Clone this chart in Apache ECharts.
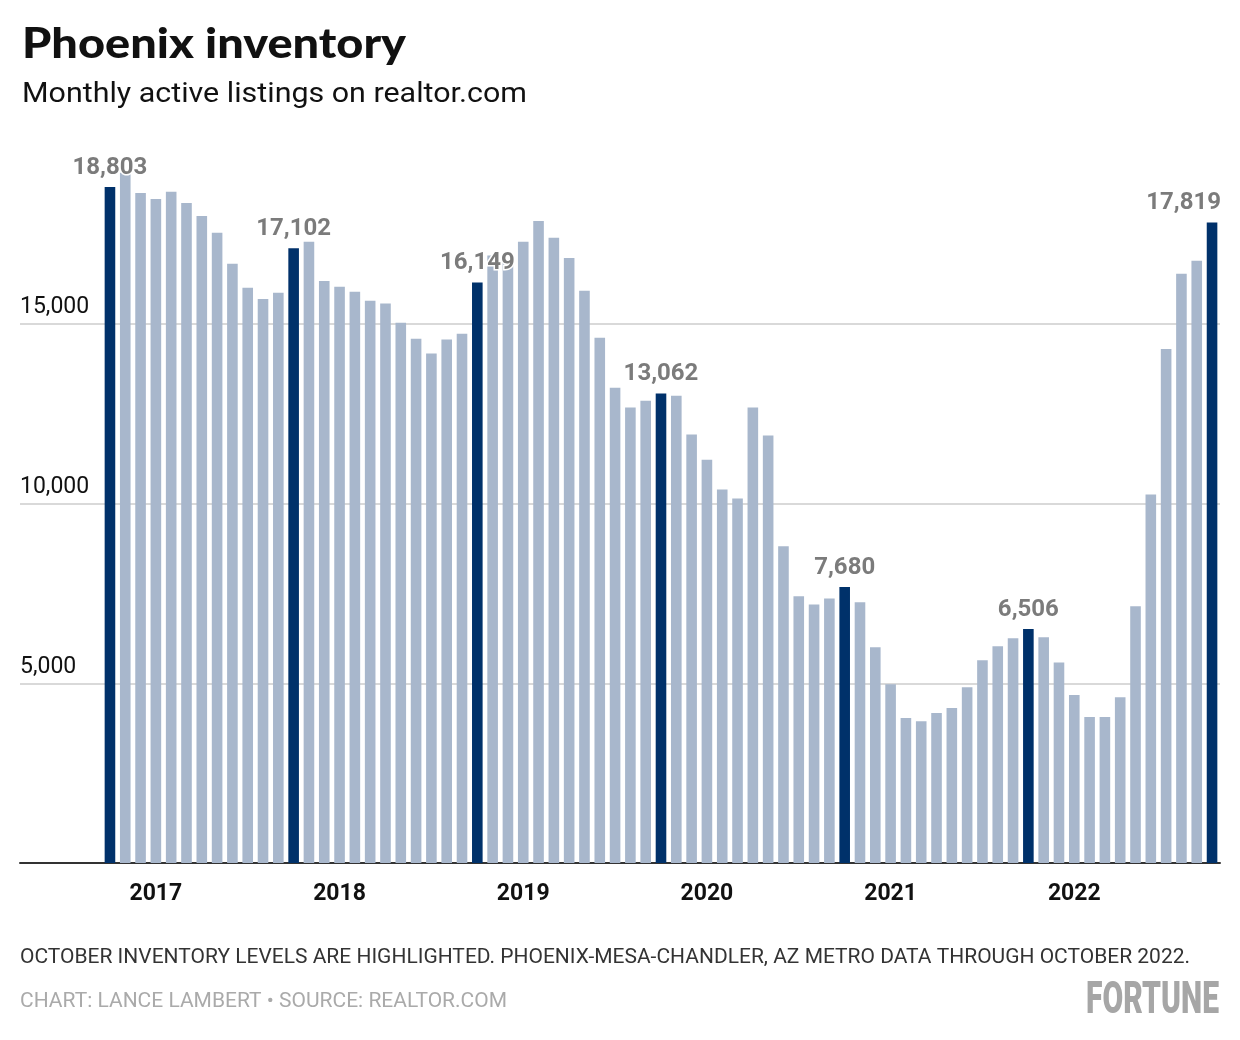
<!DOCTYPE html>
<html>
<head>
<meta charset="utf-8">
<style>
  html, body { margin: 0; padding: 0; background: #fff; }
  #chart { width: 1240px; height: 1040px; }
</style>
<script src="https://cdn.jsdelivr.net/npm/echarts@6/dist/echarts.min.js"></script>
</head>
<body>
<div id="chart"></div>
<script>
// ---- Data ----
const categories = [
  'Oct 2016','Nov 2016','Dec 2016',
  'Jan 2017','Feb 2017','Mar 2017','Apr 2017','May 2017','Jun 2017','Jul 2017','Aug 2017','Sep 2017','Oct 2017','Nov 2017','Dec 2017',
  'Jan 2018','Feb 2018','Mar 2018','Apr 2018','May 2018','Jun 2018','Jul 2018','Aug 2018','Sep 2018','Oct 2018','Nov 2018','Dec 2018',
  'Jan 2019','Feb 2019','Mar 2019','Apr 2019','May 2019','Jun 2019','Jul 2019','Aug 2019','Sep 2019','Oct 2019','Nov 2019','Dec 2019',
  'Jan 2020','Feb 2020','Mar 2020','Apr 2020','May 2020','Jun 2020','Jul 2020','Aug 2020','Sep 2020','Oct 2020','Nov 2020','Dec 2020',
  'Jan 2021','Feb 2021','Mar 2021','Apr 2021','May 2021','Jun 2021','Jul 2021','Aug 2021','Sep 2021','Oct 2021','Nov 2021','Dec 2021',
  'Jan 2022','Feb 2022','Mar 2022','Apr 2022','May 2022','Jun 2022','Jul 2022','Aug 2022','Sep 2022','Oct 2022'
];
const listings = [
  18803, 19200, 18640,
  18470, 18670, 18360, 18000, 17530, 16670, 16000, 15690, 15860, 17102, 17280, 16190,
  16030, 15890, 15640, 15560, 15030, 14580, 14170, 14560, 14720, 16149, 16900, 16720,
  17280, 17860, 17390, 16830, 15920, 14610, 13220, 12670, 12860, 13062, 13000, 11920,
  11220, 10390, 10140, 12670, 11890, 8810, 7420, 7190, 7360, 7680, 7250, 6000,
  4970, 4030, 3940, 4170, 4310, 4890, 5640, 6030, 6250, 6506, 6280, 5580,
  4670, 4060, 4060, 4610, 7140, 10250, 14300, 16390, 16750, 17819
];
const highlightedMonths = ['Oct 2016','Oct 2017','Oct 2018','Oct 2019','Oct 2020','Oct 2021','Oct 2022'];
const yearTickCategories = ['Jan 2017','Jan 2018','Jan 2019','Jan 2020','Jan 2021','Jan 2022'];
const yearTickLabels = ['2017','2018','2019','2020','2021','2022'];
const yTicks = { min: 0, max: 20000, interval: 5000 };

const titleText = 'Phoenix inventory';
const subtitleText = 'Monthly active listings on realtor.com';
const noteText = 'OCTOBER INVENTORY LEVELS ARE HIGHLIGHTED. PHOENIX-MESA-CHANDLER, AZ METRO DATA THROUGH OCTOBER 2022.';
const creditText = 'CHART: LANCE LAMBERT \u2022 SOURCE: REALTOR.COM';
const logoText = 'FORTUNE';

// ---- Styles ----
const DARK = '#00316a';
const LIGHT = '#a8b7cc';

const measureCtx = document.createElement('canvas').getContext('2d');
function fitScale(text, font, target) {
  measureCtx.font = font;
  const w = measureCtx.measureText(text).width;
  return w > 0 ? target / w : 1;
}

const titleFont = '900 42px Lato';
const subtitleFont = '28px Roboto';
const noteFont = '21px Roboto';
const creditFont = '21px Roboto';
const logoFont = '900 45px Roboto';

const barData = listings.map((v, i) => {
  const hi = highlightedMonths.includes(categories[i]);
  const isLast = i === listings.length - 1;
  return {
    value: v,
    itemStyle: { color: hi ? DARK : LIGHT },
    label: hi ? (isLast ? { show: true, align: 'right', offset: [9, 0] } : { show: true }) : { show: false }
  };
});

const chart = echarts.init(document.getElementById('chart'), null, { renderer: 'canvas' });
chart.setOption({
  animation: false,
  backgroundColor: '#fff',
  grid: [
    { left: 20, right: 20, top: 144, bottom: 177 },
    { left: 102.3, right: 20.3, top: 144, bottom: 177 }
  ],
  xAxis: [
    {
      gridIndex: 0, type: 'category', data: [''],
      axisLine: { show: true, lineStyle: { color: '#333', width: 2 } },
      axisTick: { show: false }, axisLabel: { show: false }, splitLine: { show: false }
    },
    {
      gridIndex: 1, type: 'category', data: categories,
      axisLine: { show: false }, axisTick: { show: false }, splitLine: { show: false },
      axisLabel: {
        interval: (idx, val) => yearTickCategories.includes(val),
        formatter: (val) => {
          const k = yearTickCategories.indexOf(val);
          return k >= 0 ? yearTickLabels[k] : '';
        },
        margin: 20,
        color: '#111',
        fontFamily: 'Roboto',
        fontWeight: 'bold',
        fontSize: 23
      }
    }
  ],
  yAxis: [
    {
      gridIndex: 0, type: 'value', min: yTicks.min, max: yTicks.max, interval: yTicks.interval,
      axisLine: { show: false }, axisTick: { show: false },
      splitLine: { show: true, showMinLine: false, showMaxLine: false, lineStyle: { color: '#cccccc', width: 1.5 } },
      axisLabel: {
        inside: true, margin: 0, showMinLabel: false, showMaxLabel: false,
        verticalAlign: 'bottom', align: 'left', padding: [0, 0, 5, 0],
        color: '#111', fontFamily: 'Roboto', fontSize: 23,
        formatter: (v) => v.toLocaleString('en-US')
      }
    },
    {
      gridIndex: 1, type: 'value', min: yTicks.min, max: yTicks.max, interval: yTicks.interval,
      show: false, splitLine: { show: false }
    }
  ],
  series: [
    {
      type: 'bar',
      xAxisIndex: 1, yAxisIndex: 1,
      data: barData,
      barWidth: 10.6,
      z: 3,
      label: {
        position: 'top',
        distance: 7,
        color: '#7b7b7b',
        fontFamily: 'Roboto',
        fontWeight: 'bold',
        fontSize: 24,
        textBorderColor: '#fff',
        textBorderWidth: 3,
        formatter: (p) => p.value.toLocaleString('en-US')
      }
    }
  ],
  graphic: [
    {
      type: 'text', x: 22, y: 44, z: 10,
      scaleX: fitScale(titleText, titleFont, 384),
      style: { text: titleText, font: titleFont, fill: '#111', align: 'left', verticalAlign: 'middle' }
    },
    {
      type: 'text', x: 22, y: 95, z: 10,
      scaleX: fitScale(subtitleText, subtitleFont, 505),
      style: { text: subtitleText, font: subtitleFont, fill: '#111', align: 'left', verticalAlign: 'middle' }
    },
    {
      type: 'text', x: 20, y: 958, z: 10,
      scaleX: fitScale(noteText, noteFont, 1170),
      style: { text: noteText, font: noteFont, fill: '#333', align: 'left', verticalAlign: 'middle' }
    },
    {
      type: 'text', x: 20, y: 1002, z: 10,
      scaleX: fitScale(creditText, creditFont, 487),
      style: { text: creditText, font: creditFont, fill: '#aaaaaa', align: 'left', verticalAlign: 'middle' }
    },
    {
      type: 'text', x: 1219, y: 1002, z: 10,
      scaleX: fitScale(logoText, logoFont, 133),
      style: { text: logoText, font: logoFont, fill: '#a6a6a6', align: 'right', verticalAlign: 'middle' }
    }
  ]
});
</script>
</body>
</html>
